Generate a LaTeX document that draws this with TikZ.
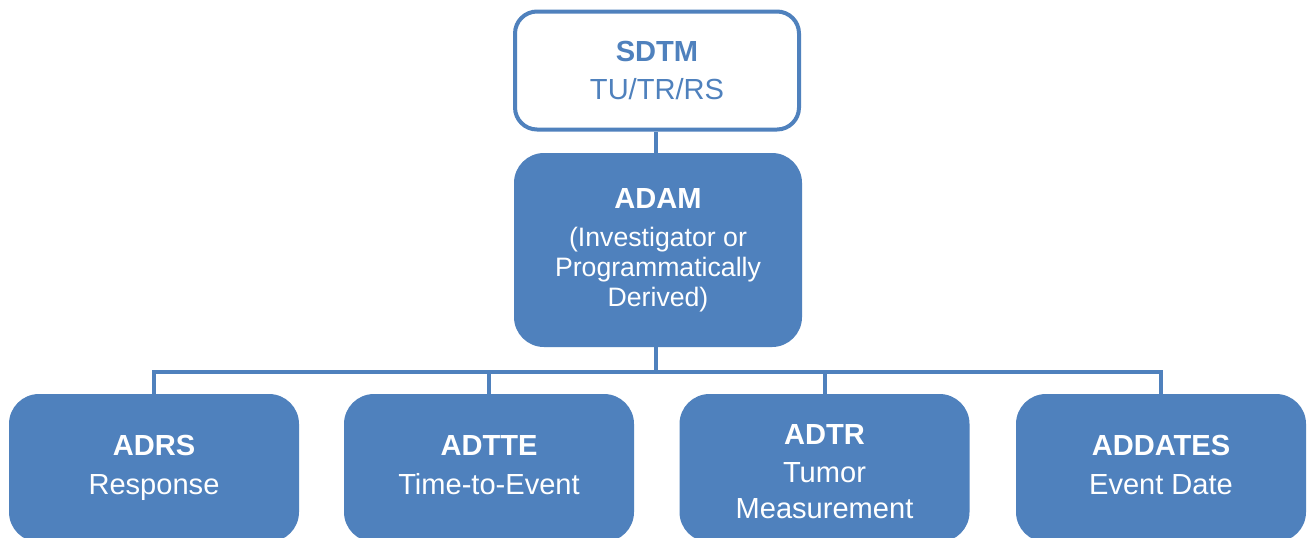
\documentclass[tikz,border=0pt]{standalone}
\usepackage{fontspec}
\setmainfont{Liberation Sans}
\definecolor{ofblue}{HTML}{4F81BD}
\begin{document}
\begin{tikzpicture}[x=0.75pt,y=-0.75pt,
  conn/.style={draw=ofblue,line width=3pt},
  topbox/.style={draw=ofblue,line width=3pt,fill=white,rounded corners=16.5pt,
    minimum width=213pt,minimum height=88.5pt,text=ofblue,align=center,inner sep=0pt,
    font=\fontsize{21.8}{29}\selectfont},
  fillbox/.style={fill=ofblue,rounded corners=22.5pt,text=white,align=center,inner sep=0pt},
  adambox/.style={fillbox,minimum width=216pt,minimum height=145.5pt,
    font=\fontsize{20}{22.5}\selectfont},
  leafbox/.style={fillbox,minimum width=217.5pt,minimum height=111pt,
    font=\fontsize{21.8}{29}\selectfont},
]
\useasboundingbox (0,0) rectangle (1308,537);
\clip (0,0) rectangle (1308,537);
\fill[white] (0,0) rectangle (1308,537);

\node[topbox] (sdtm) at (657,70.5) {{\bfseries SDTM}\\TU/TR/RS};
\node[adambox] (adam) at (658,250) {{\fontsize{21.8}{22.5}\selectfont\bfseries ADAM}\\[6pt](Investigator or\\Programmatically\\Derived)};

\node[leafbox] (adrs) at (154,468) {{\bfseries ADRS}\\Response};
\node[leafbox] (adtte) at (489,468) {{\bfseries ADTTE}\\Time-to-Event\vphantom{p}};
\node[leafbox] (adtr) at (824.5,468) {{\bfseries ADTR}\rule{0pt}{20pt}\\Tumor\\[-2.5pt]Measurement};
\node[leafbox] (addates) at (1161,468) {{\bfseries ADDATES}\\Event Date\vphantom{p}};

\coordinate (bus) at (656,372);
\draw[conn] (bus |- sdtm.south) -- (bus |- adam.north);
\draw[conn] (bus |- adam.south) -- (bus);
\draw[conn] (adrs.north) |- (addates.north |- bus) -- (addates.north);
\draw[conn] (adtte.north) -- (adtte.north |- bus);
\draw[conn] (adtr.north) -- (adtr.north |- bus);
\end{tikzpicture}
\end{document}
